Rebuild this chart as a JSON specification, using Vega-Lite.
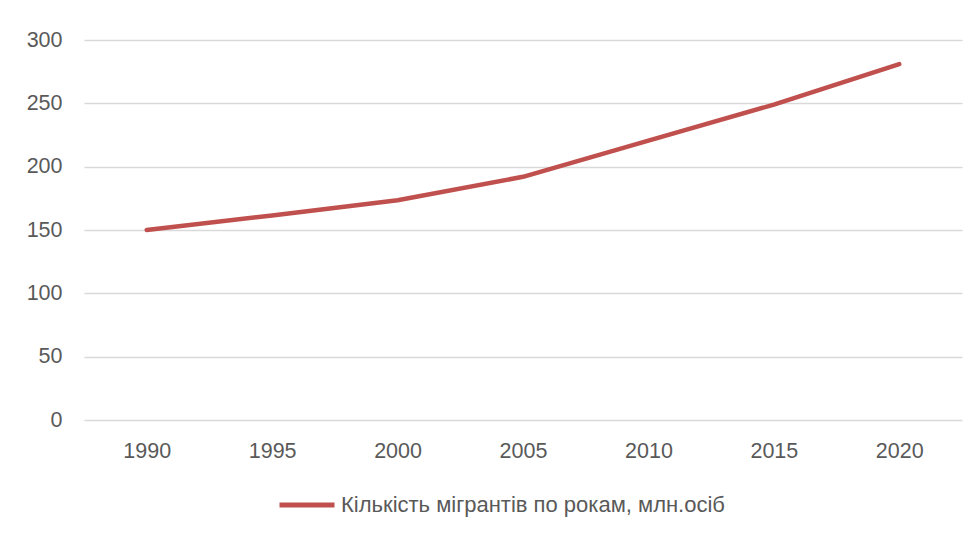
{
  "$schema": "https://vega.github.io/schema/vega-lite/v6.json",
  "width": 878,
  "height": 380,
  "padding": {"left": 84, "top": 40, "right": 18, "bottom": 115},
  "autosize": {"type": "none"},
  "background": "white",
  "data": {"values": [
    {"year": "1990", "value": 150},
    {"year": "1995", "value": 161.5},
    {"year": "2000", "value": 173.5},
    {"year": "2005", "value": 192},
    {"year": "2010", "value": 220.5},
    {"year": "2015", "value": 249},
    {"year": "2020", "value": 281}
  ]},
  "mark": {"type": "line", "strokeWidth": 4.5, "strokeCap": "round", "strokeJoin": "round"},
  "encoding": {
    "x": {
      "field": "year", "type": "ordinal", "title": null,
      "scale": {"type": "point", "padding": 0.5},
      "axis": {"labelAngle": 0, "ticks": false, "domain": false, "grid": false, "labelPadding": 20, "labelFontSize": 21.5, "labelColor": "#595959", "labelFont": "Liberation Sans"}
    },
    "y": {
      "field": "value", "type": "quantitative", "title": null,
      "scale": {"domain": [0, 300], "nice": false},
      "axis": {"values": [0, 50, 100, 150, 200, 250, 300], "ticks": false, "domain": false, "grid": true, "gridColor": "#D9D9D9", "gridWidth": 1.3, "labelPadding": 22, "labelFontSize": 21.5, "labelColor": "#595959", "labelFont": "Liberation Sans"}
    },
    "color": {
      "datum": "Кількість мігрантів по рокам, млн.осіб",
      "scale": {"range": ["#C0504D"]},
      "legend": {"title": null, "orient": "none", "legendX": 193, "legendY": 435, "symbolType": "stroke", "symbolSize": 3025, "symbolStrokeWidth": 5, "labelFontSize": 22, "labelColor": "#595959", "labelFont": "Liberation Sans", "labelOffset": 4, "labelLimit": 600}
    }
  },
  "config": {"view": {"stroke": null}}
}
